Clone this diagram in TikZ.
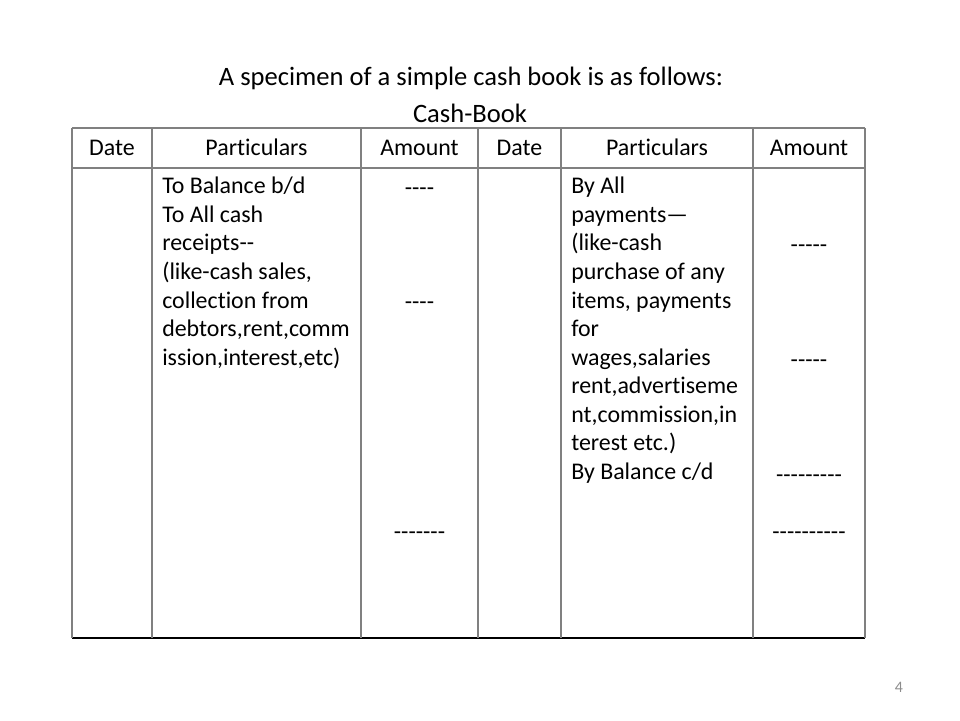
\documentclass[tikz,border=0pt]{standalone}
\usepackage{fontspec}
\setmainfont{Carlito}[Ligatures={TeXOff,NoCommon}]
\usetikzlibrary{positioning}
\definecolor{rulegray}{RGB}{128,128,128}
\definecolor{pagegray}{RGB}{140,140,140}
\tikzset{
  cell/.style={font=\fontsize{18}{21.5}\selectfont, inner sep=0pt},
  headtext/.style={cell, anchor=base},
  parttext/.style={cell, anchor=north west, align=left},
  amt/.style={cell, anchor=base},
  gridline/.style={rulegray, line width=1.4pt},
}

\begin{document}
\begin{tikzpicture}[x=0.02646cm, y=-0.02646cm]
  \useasboundingbox (0,0) rectangle (960,720);
  % headings
  \node[font=\fontsize{20}{24}\selectfont, anchor=base] (title) at (471,85) {A specimen of a simple cash book is as follows:};
  \node[font=\fontsize{20}{24}\selectfont, anchor=base] (booktitle) at (470,122) {Cash-Book};
  % ruling
  \draw[gridline] (72,128) -- (865,128);
  \draw[gridline] (72,168) -- (865,168);
  \draw[black, line width=1.1pt] (72,638) -- (865,638);
  \foreach \x in {72,152,361,478,561,753,865}
    \draw[gridline] (\x,128) -- (\x,638);
  % header row
  \foreach \x/\t [count=\i] in {112/Date, 256.5/Particulars, 419.5/Amount, 519.5/Date, 657/Particulars, 809/Amount}
    \node[headtext] (head\i) at (\x,155) {\t};
  % debit side
  \node[parttext] (drpart) at (162,177) {To Balance b/d\\To All cash\\receipts--\\(like-cash sales,\\collection from\\debtors,rent,comm\\ission,interest,etc)};
  \node[amt] (dramt1) at (419.5,195) {----};
  \node[amt] (dramt2) at (419.5,309.8) {----};
  \node[amt] (dramt3) at (419.5,539.4) {-------};
  % credit side
  \node[parttext] (crpart) at (571,177) {By All\\payments—\\(like-cash\\purchase of any\\items, payments\\for\\wages,salaries\\rent,advertiseme\\nt,commission,in\\terest etc.)\\By Balance c/d};
  \node[amt] (cramt1) at (809,252.4) {-----};
  \node[amt] (cramt2) at (809,367.2) {-----};
  \node[amt] (cramt3) at (809,482) {---------};
  \node[amt] (cramt4) at (809,539.4) {----------};
  % slide number
  \node[font=\fontsize{12}{14}\selectfont, text=pagegray] (pagenum) at (899,687) {4};
\end{tikzpicture}
\end{document}
